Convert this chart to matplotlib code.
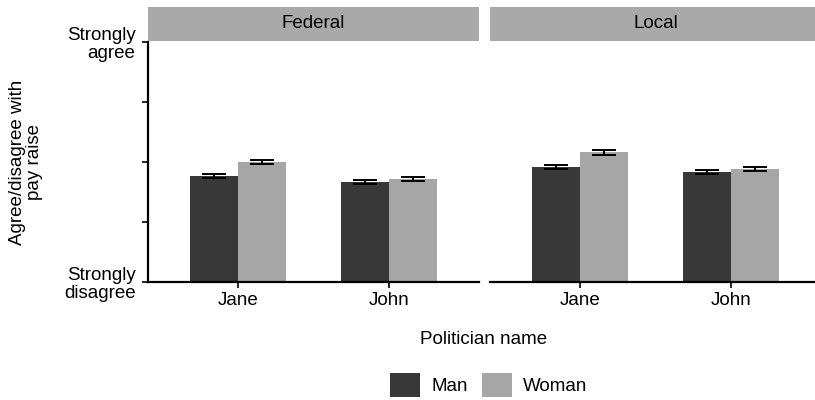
import matplotlib
matplotlib.use("Agg")
import numpy as np
import matplotlib.pyplot as plt
from matplotlib.patches import Patch

plt.rcParams['font.family'] = ['Liberation Sans', 'DejaVu Sans']

# mean agreement (1 = strongly disagree, 5 = strongly agree) with standard errors
panels = ['Federal', 'Local']
names = ['Jane', 'John']
groups = ['Man', 'Woman']
federal_man = [2.77, 2.67]
federal_woman = [3.00, 2.72]
local_man = [2.92, 2.83]
local_woman = [3.16, 2.88]
federal_man_se = [0.035, 0.033]
federal_woman_se = [0.040, 0.037]
local_man_se = [0.035, 0.034]
local_woman_se = [0.038, 0.035]

values = {'Federal': (federal_man, federal_woman), 'Local': (local_man, local_woman)}
errors = {'Federal': (federal_man_se, federal_woman_se), 'Local': (local_man_se, local_woman_se)}
colors = ['#383838', '#a6a6a6']

fs = 13.5
W, H = 815, 400
fig = plt.figure(figsize=(W / 100, H / 100), dpi=100)

lefts = [148, 490]
pw = 331
top, bottom = 42, 282
x = np.arange(1, len(names) + 1)
bw = 0.32

for k, p in enumerate(panels):
    ax = fig.add_axes([lefts[k] / W, (H - bottom) / H, pw / W, (bottom - top) / H])
    for g in range(2):
        off = (g - 0.5) * bw
        v = np.array(values[p][g])
        ax.bar(x + off, v - 1, bw, bottom=1, color=colors[g], edgecolor='none', zorder=2)
        ax.errorbar(x + off, v, yerr=errors[p][g], fmt='none', ecolor='black',
                    elinewidth=1.4, capsize=8.3, capthick=1.4, zorder=3)
    ax.set_xlim(0.4, 2.6)
    ax.set_ylim(1, 5)
    ax.set_xticks(x)
    ax.set_xticklabels(names, fontsize=fs)
    for s in ['top', 'right']:
        ax.spines[s].set_visible(False)
    ax.spines['bottom'].set_linewidth(1.6)
    ax.tick_params(axis='x', length=4, width=1.2, pad=3)
    if k == 0:
        ax.spines['left'].set_linewidth(1.6)
        ax.set_yticks([1, 2, 3, 4, 5])
        ax.set_yticklabels(['Strongly\ndisagree', '', '', '', 'Strongly\nagree'],
                           fontsize=fs, linespacing=1.1)
        ax.tick_params(axis='y', length=4, width=1.2, pad=5)
    else:
        ax.spines['left'].set_visible(False)
        ax.set_yticks([])

    # facet strip
    sx = fig.add_axes([lefts[k] / W, (H - 41) / H, pw / W, 34 / H])
    sx.set_facecolor('#a9a9a9')
    sx.set_xticks([])
    sx.set_yticks([])
    for s in sx.spines.values():
        s.set_visible(False)
    sx.text(0.5, 0.5, p, ha='center', va='center', fontsize=fs, transform=sx.transAxes)

fig.text(484 / W, 1 - 340 / H, 'Politician name', ha='center', va='center', fontsize=fs)
fig.text(26 / W, 1 - 162 / H, 'Agree/disagree with\npay raise', ha='center', va='center',
         rotation=90, fontsize=fs, linespacing=1.05)

handles = [Patch(facecolor=c, edgecolor='none') for c in colors]
fig.legend(handles, groups, loc='center', bbox_to_anchor=(489 / W, 1 - 385 / H), ncol=2,
           frameon=False, fontsize=fs, handlelength=1.6, handleheight=1.6,
           handletextpad=0.6, columnspacing=0.75, borderpad=0)

fig.savefig('out.png', dpi=100)
